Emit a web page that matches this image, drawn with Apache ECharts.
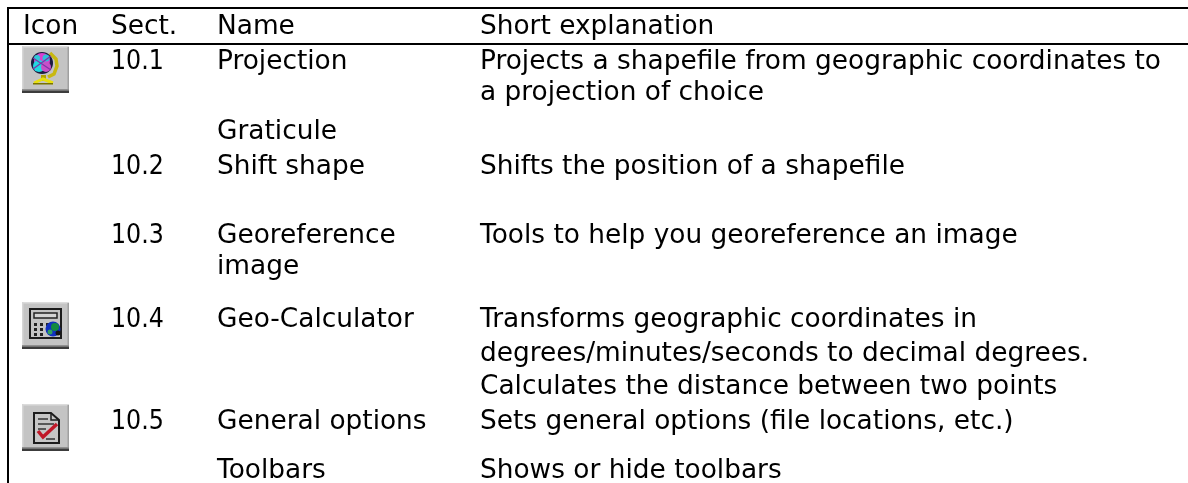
<!DOCTYPE html>
<html><head><meta charset="utf-8">
<script src="https://cdn.jsdelivr.net/npm/echarts@6/dist/echarts.min.js"></script>
<style>html,body{margin:0;background:#fff}#c{width:1188px;height:483px}</style></head>
<body><div id="c"></div>
<script>
const headers = ['Icon','Sect.','Name','Short explanation'];
const sections = ['10.1','10.2','10.3','10.4','10.5'];
const names = ['Projection','Graticule','Shift shape','Georeference','image','Geo-Calculator','General options','Toolbars'];
const explanations = [
 'Projects a shapefile from geographic coordinates to',
 'a projection of choice',
 'Shifts the position of a shapefile',
 'Tools to help you georeference an image',
 'Transforms geographic coordinates in',
 'degrees/minutes/seconds to decimal degrees.',
 'Calculates the distance between two points',
 'Sets general options (file locations, etc.)',
 'Shows or hide toolbars'
];
const iconKinds = ['globe','calc','doc'];

const colX = [23,111,217,480];
const headerBase = 33;
const sectionBase = [68,173,242,326,428];
const nameBase = [68,138,173,242,273,326,428,477];
const explanationBase = [68,99,173,242,326,360,393,428,477];
const iconTop = [46,302,404];

const FONT = '26.4px "DejaVu Sans",sans-serif';
const FONT_DIGITS = '26.4px "DejaVu Sans Condensed","DejaVu Sans",sans-serif';
const BASE_SHIFT = 5.5;

const textRows = [];
headers.forEach((t,i)=>textRows.push([colX[i],headerBase,t,FONT]));
sections.forEach((t,i)=>textRows.push([colX[1],sectionBase[i],t,FONT_DIGITS]));
names.forEach((t,i)=>textRows.push([colX[2],nameBase[i],t,FONT]));
explanations.forEach((t,i)=>textRows.push([colX[3],explanationBase[i],t,FONT]));

function drawIcon(kind,x,y){
  const r=(a,b,w,h,fill,extra)=>({type:'rect',shape:{x:x+a,y:y+b,width:w,height:h},style:Object.assign({fill:fill},extra||{})});
  const c=(a,b,rad,fill)=>({type:'circle',shape:{cx:x+a,cy:y+b,r:rad},style:{fill:fill}});
  const l=(pts,color,w)=>({type:'polyline',shape:{points:pts.map(p=>[x+p[0],y+p[1]])},style:{fill:null,stroke:color,lineWidth:w}});
  const base=[
    r(0,0,47,47,'#c4c4c4'),
    r(0,0,47,1.5,'#dcdcdc'), r(0,0,1.5,44,'#d6d6d6'),
    r(45.5,1,1.5,43,'#a0a0a0'),
    r(0,43,47,1.5,'#909090'), r(0,44.5,47,2.5,'#3c3c3c')
  ];
  let kids=[];
  if(kind==='globe'){
    kids=[
      l([[28,7],[34,13],[35,20],[32,28],[26,31]],'#c8b810',3.5),
      r(19,29,5,6,'#b0a400'),
      l([[12,37],[21,33],[31,37]],'#e8e010',3),
      r(11,37,20,1.5,'#7a7400'),
      c(20,17,11,'#1c1c40'),
      c(20,15,8,'#d840d0'), c(17,20,6,'#20d8e0'), c(24,21,5,'#c850c8'), c(24,12,3.5,'#30c0d8'), c(15,12,3,'#30c8d8'),
      l([[11,12],[29,24]],'#8030a8',1.2), l([[11,23],[29,10]],'#8030a8',1.2)
    ];
  } else if(kind==='calc'){
    kids=[
      r(8,7,31,29,'#c4c4c4',{stroke:'#1c1c1c',lineWidth:2}),
      r(12,11,23,5,'#d4d4d4',{stroke:'#222222',lineWidth:1.5}),
      r(12,21,3,3,'#222'),r(18,21,3,3,'#222'),r(24,21,3,3,'#222'),
      r(12,26,3,3,'#222'),r(18,26,3,3,'#222'),
      r(12,31,3,3,'#222'),r(18,31,3,3,'#222'),
      c(31,27,7.5,'#1030c0'), c(33,25,4,'#108a40'), c(28,30,2.5,'#30a060'), c(36,31,2.5,'#141414')
    ];
  } else {
    kids=[
      {type:'polygon',shape:{points:[[12,9],[29,9],[37,16],[37,39],[12,39]].map(p=>[x+p[0],y+p[1]])},style:{fill:'#c6c6c6',stroke:'#1c1c1c',lineWidth:2}},
      l([[29,9],[29,16],[37,16]],'#1c1c1c',1.5),
      l([[16,15],[26,15]],'#333',1.5), l([[16,20],[32,20]],'#333',1.5), l([[16,25],[24,25]],'#333',1.5),
      l([[24,35],[33,35]],'#333',1.5),
      l([[16,27],[21,33],[35,20]],'#c01828',3.5)
    ];
  }
  return {type:'group',children:base.concat(kids)};
}

const chart = echarts.init(document.getElementById('c'),null,{renderer:'canvas'});
chart.setOption({
  animation:false,
  backgroundColor:'#ffffff',
  grid:{left:0,right:0,top:0,bottom:0},
  xAxis:{type:'value',min:0,max:1188,show:false},
  yAxis:{type:'value',min:0,max:483,inverse:true,show:false},
  series:[
    {type:'custom',coordinateSystem:'cartesian2d',silent:true,
     data:[[7,8,1188,8],[7,44,1188,44],[8,7,8,483]],
     renderItem:(p,api)=>{
       const a=api.coord([api.value(0),api.value(1)]),b=api.coord([api.value(2),api.value(3)]);
       return {type:'line',shape:{x1:a[0],y1:a[1],x2:b[0],y2:b[1]},style:{stroke:'#000',lineWidth:2}};
     }},
    {type:'custom',coordinateSystem:'cartesian2d',silent:true,
     data:textRows.map(t=>[t[0],t[1]]),
     renderItem:(p,api)=>{
       const a=api.coord([api.value(0),api.value(1)]);
       const row=textRows[p.dataIndex];
       return {type:'text',x:a[0],y:a[1]-BASE_SHIFT,style:{text:row[2],fill:'#000',font:row[3],textAlign:'left',textVerticalAlign:'middle'}};
     }},
    {type:'custom',coordinateSystem:'cartesian2d',silent:true,
     data:iconKinds.map((k,i)=>[colX[0]-1,iconTop[i]]),
     renderItem:(p,api)=>{
       const a=api.coord([api.value(0),api.value(1)]);
       return drawIcon(iconKinds[p.dataIndex],a[0],a[1]);
     }}
  ]
});
</script></body></html>
